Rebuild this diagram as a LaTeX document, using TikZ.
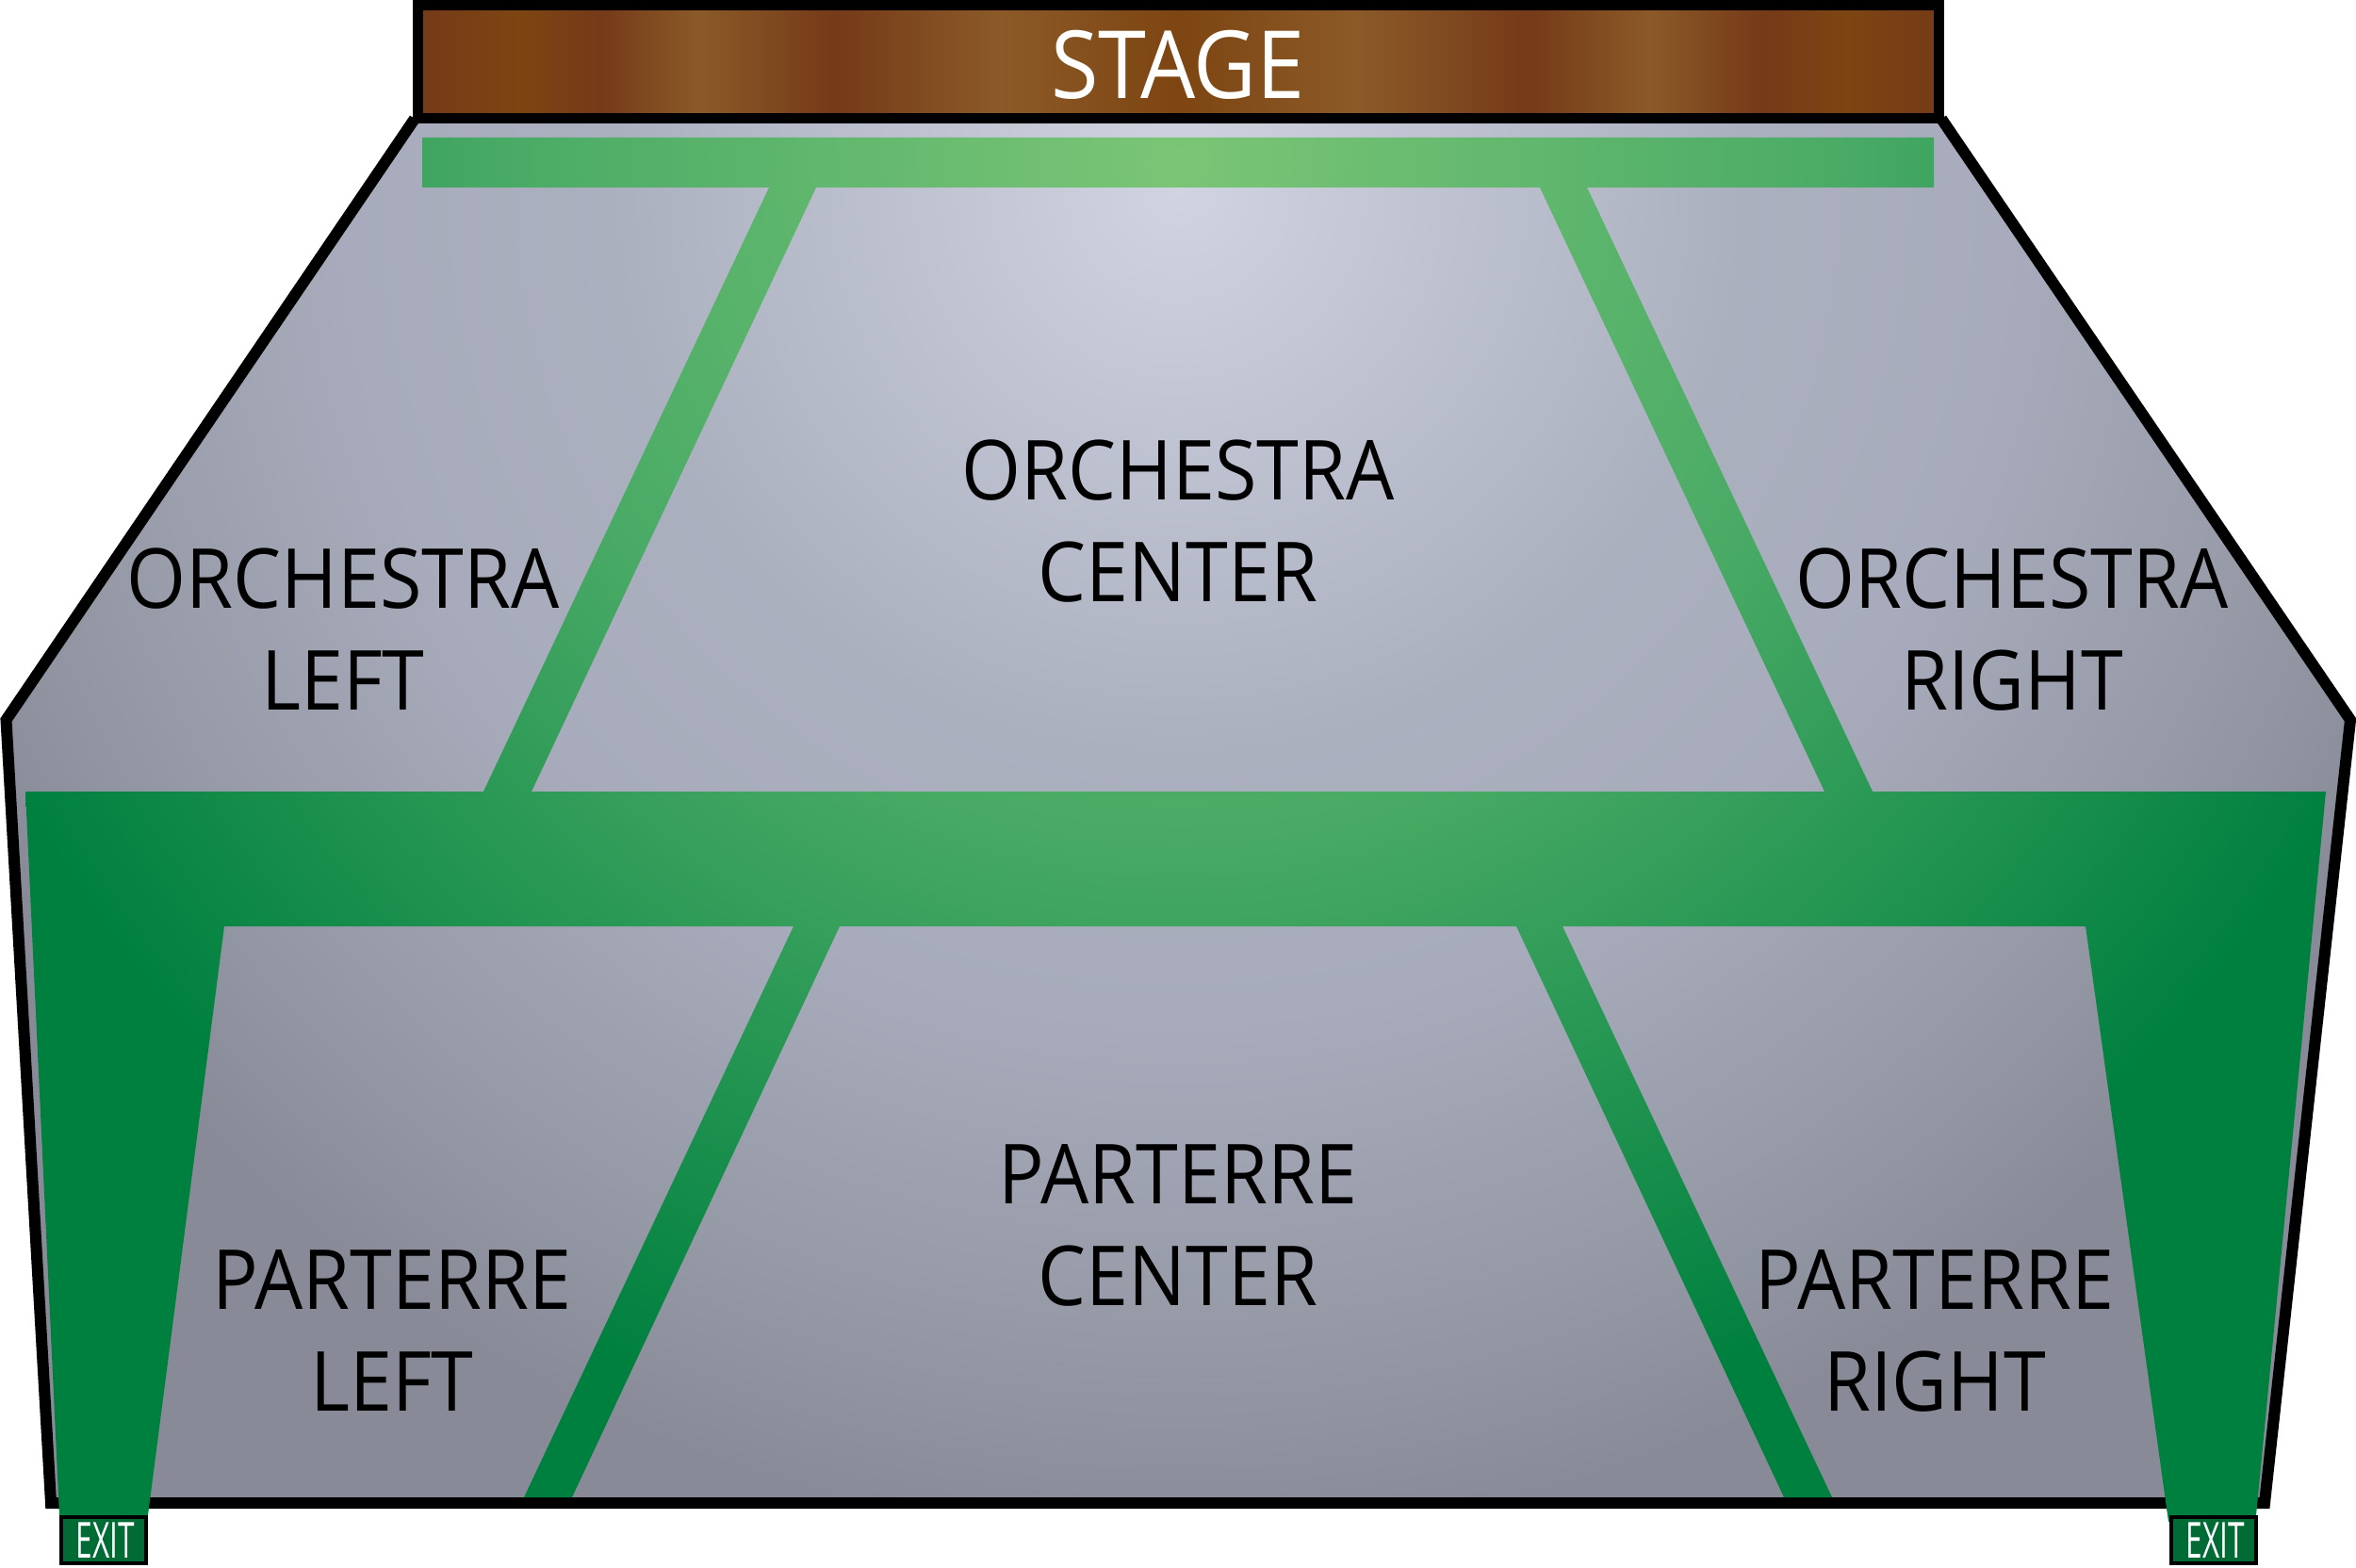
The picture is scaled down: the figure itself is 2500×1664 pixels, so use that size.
\documentclass[tikz,border=0pt]{standalone}
\usepackage{fontspec}
\setmainfont[FakeStretch=0.92]{Open Sans}
\newfontfamily\exitfont[FakeStretch=0.6]{Open Sans}
\usetikzlibrary{calc}

\definecolor{woodA}{HTML}{753A18}
\definecolor{woodB}{HTML}{8B5A28}
\definecolor{woodC}{HTML}{7D4512}
\pgfdeclarehorizontalshading{stagewood}{100bp}{
  color(0bp)=(woodA); color(25bp)=(woodA); color(28.35bp)=(woodC); color(31bp)=(woodA);
  color(34.25bp)=(woodB); color(38.7bp)=(woodA); color(44.1bp)=(woodB); color(50bp)=(woodC);
  color(55.9bp)=(woodB); color(61.5bp)=(woodA); color(65.5bp)=(woodB); color(69.2bp)=(woodA);
  color(72bp)=(woodC); color(75bp)=(woodA); color(100bp)=(woodA)}
\pgfdeclareradialshading{hallgray}{\pgfpointorigin}{
  color(0bp)=(rgb,255:red,208;green,211;blue,224);
  color(7.5bp)=(rgb,255:red,171;green,176;blue,191);
  color(11bp)=(rgb,255:red,167;green,171;blue,187);
  color(14.5bp)=(rgb,255:red,153;green,157;blue,170);
  color(18bp)=(rgb,255:red,136;green,139;blue,151);
  color(50bp)=(rgb,255:red,136;green,139;blue,151)}
\pgfdeclareradialshading{aislegreen}{\pgfpointorigin}{
  color(0bp)=(rgb,255:red,123;green,197;blue,118);
  color(8.75bp)=(rgb,255:red,74;green,171;blue,102);
  color(17.5bp)=(rgb,255:red,0;green,128;blue,63);
  color(50bp)=(rgb,255:red,0;green,128;blue,63)}
\definecolor{exitgreen}{HTML}{006B35}

\begin{document}
\begin{tikzpicture}[
  x=0.01cm,y=-0.01cm,
  wall/.style={draw=black,line width=0.11cm,miter limit=10},
  section/.style={font=\fontsize{25}{30.7}\selectfont,align=center,text=black,inner sep=0pt},
  stagelabel/.style={font=\fontsize{28.4}{30}\selectfont,text=white,inner sep=0pt},
  exitbox/.style={draw=black,line width=0.04cm,fill=exitgreen,minimum width=0.9cm,minimum height=0.49cm,inner sep=0pt,text=white,font=\exitfont\fontsize{15}{16}\selectfont}
]
\useasboundingbox (0,0) rectangle (2500,1664);

% hall floor
\begin{scope}
\clip (440,126) -- (2060,126) -- (2494,764) -- (2403,1595) -- (54,1595) -- (6.5,764) -- cycle;
\shade[shading=hallgray] (1250,200) circle (2000);
\end{scope}

% outline
\draw[wall,line width=0.12cm] (440,126) -- (6.5,764) -- (54,1595) -- (2403,1595) -- (2494,764) -- (2060,126);

% aisles
\begin{scope}
\clip (448,146) rectangle (2052,199)
  (816,199) -- (866,199) -- (564,840) -- (513,840) -- cycle
  (1634,199) -- (1684,199) -- (1987,840) -- (1936,840) -- cycle
  (27,840) -- (2468,840) -- (2394,1608) -- (2301,1615) -- (2213,983) -- (238,983) -- (157,1608) -- (63,1608) -- cycle
  (842,983) -- (891,983) -- (607,1589) -- (556,1589) -- cycle
  (1609,983) -- (1658,983) -- (1944,1589) -- (1893,1589) -- cycle;
\shade[shading=aislegreen] (1250,170) circle (2000);
\end{scope}

% stage
\shade[shading=stagewood] (443,5.5) rectangle (2057,126);
\draw[wall] (443,5.5) rectangle (2057,126);

\node[stagelabel] (stage) at (1250,69) {STAGE};
\node[section] (orchcenter) at (1250,553) {ORCHESTRA\\CENTER};
\node[section] (orchleft) at (364,668) {ORCHESTRA\\LEFT};
\node[section] (orchright) at (2135,668) {ORCHESTRA\\RIGHT};
\node[section] (parcenter) at (1250,1300) {PARTERRE\\CENTER};
\node[section] (parleft) at (416,1412) {PARTERRE\\LEFT};
\node[section] (parright) at (2053,1412) {PARTERRE\\RIGHT};

\node[exitbox] (exitleft) at (110,1634.5) {\kern0.04cm EXIT};
\node[exitbox] (exitright) at (2349,1634.5) {\kern0.04cm EXIT};

\end{tikzpicture}
\end{document}
